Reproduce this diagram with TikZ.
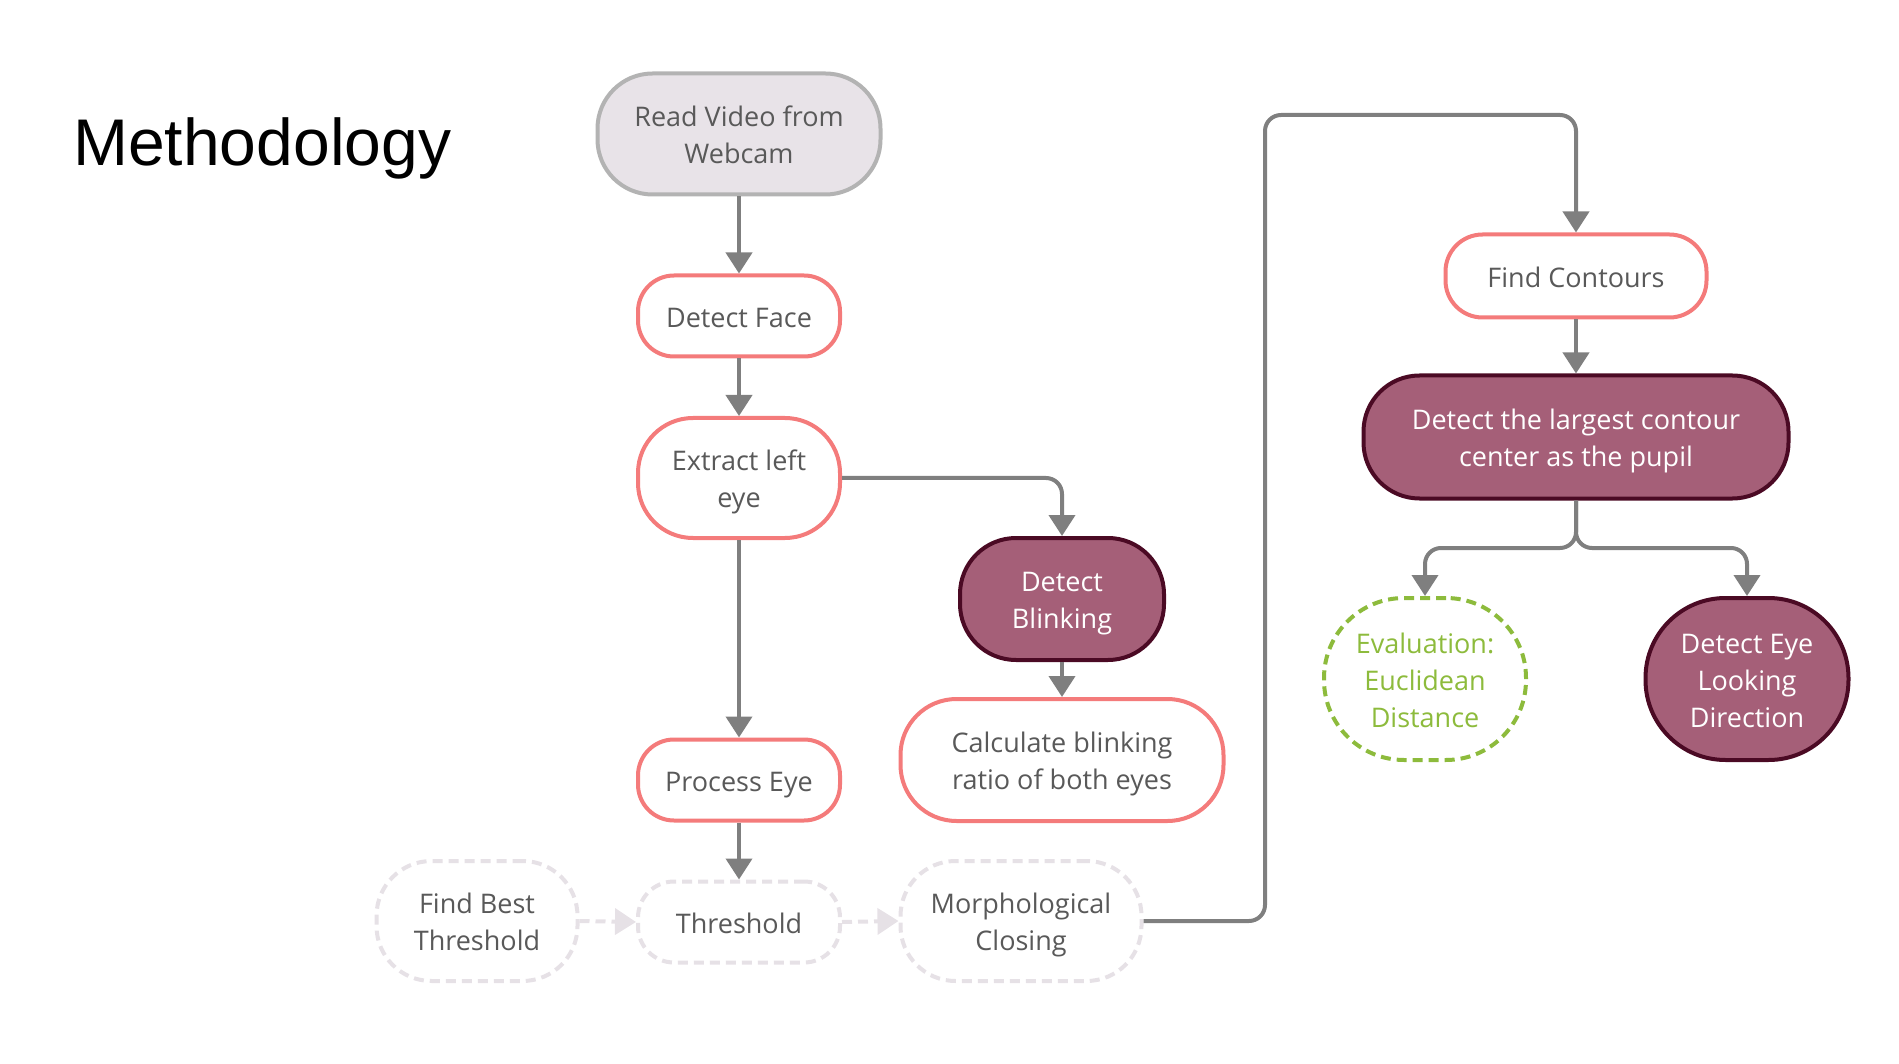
\documentclass[tikz,border=0pt]{standalone}
\usepackage{fontspec}
\setmainfont{Open Sans}
\newfontfamily\titlefont{Liberation Sans}
\usetikzlibrary{arrows.meta}
\definecolor{pinkb}{HTML}{F47B7B}
\definecolor{txtg}{HTML}{595959}
\definecolor{conng}{HTML}{7F7F7F}
\definecolor{darkfill}{HTML}{A55F78}
\definecolor{darkb}{HTML}{4B0A24}
\definecolor{greenb}{HTML}{8DBB3C}
\definecolor{lightg}{HTML}{E6E1E6}
\definecolor{readfill}{HTML}{E8E3E8}
\definecolor{readb}{HTML}{B3B3B3}
\newcommand\tx[1]{\raisebox{-4pt}[\height][\depth]{\begin{tabular}{@{}c@{}}#1\end{tabular}}}
\tikzset{
  base/.style={rectangle, inner sep=0pt, align=center, text=txtg, line width=4pt,
    font=\fontsize{27}{37}\selectfont},
  pinkbox/.style={base, draw=pinkb, fill=white},
  darkbox/.style={base, draw=darkb, fill=darkfill, text=white},
  readbox/.style={base, draw=readb, fill=readfill},
  ghostbox/.style={base, draw=lightg, fill=white, dash pattern=on 10pt off 6pt},
  greenbox/.style={base, draw=greenb, fill=white, text=greenb, dash pattern=on 10pt off 6pt},
  conn/.style={draw=conng, line width=4pt, -{Triangle[width=26pt,length=21pt]}, rounded corners=16pt},
  ghostconn/.style={draw=lightg, line width=4pt, dash pattern=on 10pt off 6pt, -{Triangle[width=26pt,length=21pt]}},
}
\begin{document}
\begin{tikzpicture}[x=1pt,y=-1pt]
\useasboundingbox (0,0) rectangle (1899,1064);
\node[anchor=base west, inner sep=0pt, font=\titlefont\fontsize{66}{70}\selectfont] (title) at (73,166) {Methodology};

\node[readbox, minimum width=283pt, minimum height=121pt, rounded corners=55pt] (read) at (739,134) {\tx{Read Video from\\Webcam}};
\node[pinkbox, minimum width=202pt, minimum height=81pt, rounded corners=36pt] (face) at (739,316) {\tx{Detect Face}};
\node[pinkbox, minimum width=202pt, minimum height=120pt, rounded corners=55pt] (extract) at (739,478) {\tx{Extract left\\eye}};
\node[darkbox, minimum width=204pt, minimum height=122pt, rounded corners=56pt] (blink) at (1062,599) {\tx{Detect\\Blinking}};
\node[pinkbox, minimum width=323pt, minimum height=122pt, rounded corners=56pt] (calc) at (1062,760) {\tx{Calculate blinking\\ratio of both eyes}};
\node[pinkbox, minimum width=202pt, minimum height=81pt, rounded corners=36pt] (process) at (739,780) {\tx{Process Eye}};
\node[ghostbox, minimum width=201pt, minimum height=120pt, rounded corners=55pt] (best) at (477,921) {\tx{Find Best\\Threshold}};
\node[ghostbox, minimum width=202pt, minimum height=81pt, rounded corners=36pt] (thresh) at (739,922) {\tx{Threshold}};
\node[ghostbox, minimum width=241pt, minimum height=120pt, rounded corners=55pt] (morph) at (1021,921) {\tx{Morphological\\Closing}};
\node[pinkbox, minimum width=261pt, minimum height=83pt, rounded corners=37pt] (contours) at (1576,276) {\tx{Find Contours}};
\node[darkbox, minimum width=425pt, minimum height=123pt, rounded corners=56pt] (largest) at (1576,437) {\tx{Detect the largest contour\\center as the pupil}};
\node[greenbox, minimum width=202pt, minimum height=162pt, rounded corners=80pt] (eval) at (1425,679) {\tx{Evaluation:\\Euclidean\\Distance}};
\node[darkbox, minimum width=203pt, minimum height=162pt, rounded corners=80pt] (dir) at (1747,679) {\tx{Detect Eye\\Looking\\Direction}};

\coordinate (fork) at (1576,548);
\coordinate (loopa) at (1265,921);
\coordinate (loopb) at (1265,115);
\coordinate (loopc) at (1576,115);

\draw[conn] (read.south) -- (face.north);
\draw[conn] (face.south) -- (extract.north);
\draw[conn] (extract.east) -| (blink.north);
\draw[conn] (blink.south) -- (calc.north);
\draw[conn] (extract.south) -- (process.north);
\draw[conn] (process.south) -- (thresh.north);
\draw[ghostconn] (best.east) -- (thresh.west);
\draw[ghostconn] (thresh.east) -- (morph.west);
\draw[conn] (morph.east) -- (loopa) -- (loopb) -- (loopc) -- (contours.north);
\draw[conn] (contours.south) -- (largest.north);
\draw[conn] (largest.south) -- (fork) -| (eval.north);
\draw[conn] (largest.south) -- (fork) -| (dir.north);
\end{tikzpicture}
\end{document}
